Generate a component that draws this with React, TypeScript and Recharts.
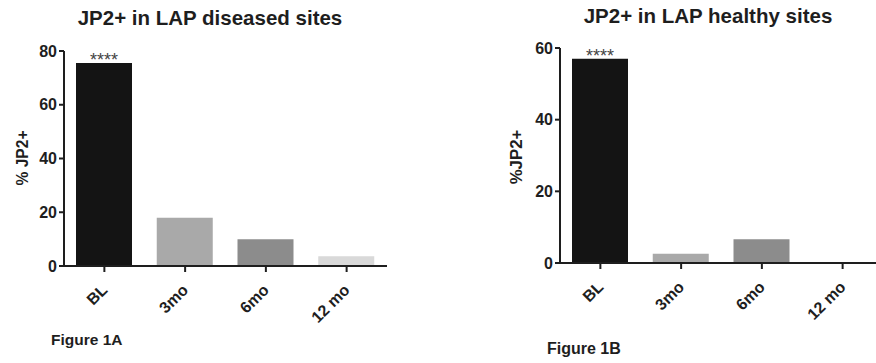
import { BarChart, Bar, XAxis, YAxis, Cell, LabelList } from 'recharts';

const categories = ['BL', '3mo', '6mo', '12 mo'];
const diseasedValues = [75.5, 18, 10, 3.6];
const healthyValues = [57, 2.6, 6.6, 0];
const diseasedTicks = [0, 20, 40, 60, 80];
const healthyTicks = [0, 20, 40, 60];
const significance = ['****', '', '', ''];
const barColors = ['#141414', '#a9a9a9', '#8c8c8c', '#d9d9d9'];

const FONT = '"Liberation Sans", Arial, sans-serif';
const INK = '#1e1e1e';

const XTick = (props: any) => {
  const { x, y, payload } = props;
  const ax = x + 4;
  const ay = y + 17;
  return (
    <text
      x={ax}
      y={ay}
      transform={`rotate(-45, ${ax}, ${ay})`}
      textAnchor="end"
      fontFamily={FONT}
      fontWeight="bold"
      fontSize={16}
      fill={INK}
    >
      {payload.value}
    </text>
  );
};

type PanelProps = {
  values: number[];
  ticks: number[];
  width: number;
  height: number;
  margin: { top: number; right: number; bottom: number; left: number };
};

const Panel = ({ values, ticks, width, height, margin }: PanelProps) => {
  const data = categories.map((c, i) => ({ name: c, value: values[i], sig: significance[i] }));
  return (
    <BarChart width={width} height={height} data={data} margin={margin}>
      <XAxis
        dataKey="name"
        axisLine={{ stroke: INK, strokeWidth: 2 }}
        tickLine={{ stroke: INK, strokeWidth: 2 }}
        tickSize={6}
        tick={<XTick />}
        interval={0}
        height={40}
      />
      <YAxis
        domain={[0, ticks[ticks.length - 1]]}
        ticks={ticks}
        axisLine={{ stroke: INK, strokeWidth: 2 }}
        tickLine={{ stroke: INK, strokeWidth: 2 }}
        tickSize={5}
        width={50}
        tick={{ fill: INK, fontSize: 16, fontWeight: 'bold', fontFamily: FONT }}
      />
      <Bar dataKey="value" barSize={56} isAnimationActive={false}>
        {data.map((d, i) => (
          <Cell key={d.name} fill={barColors[i]} />
        ))}
        <LabelList dataKey="sig" position="top" offset={-3} fill="#444" fontSize={18} fontFamily={FONT} />
      </Bar>
    </BarChart>
  );
};

const abs = (extra: React.CSSProperties): React.CSSProperties => ({
  position: 'absolute',
  fontFamily: FONT,
  fontWeight: 'bold',
  color: INK,
  whiteSpace: 'nowrap',
  ...extra,
});

export default function App() {
  return (
    <div style={{ position: 'absolute', left: 0, top: 0, width: 876, height: 363, background: '#fff', overflow: 'hidden' }}>
      {/* left panel */}
      <div style={{ position: 'absolute', left: 0, top: 0 }}>
        <Panel
          values={diseasedValues}
          ticks={diseasedTicks}
          width={440}
          height={363}
          margin={{ top: 51, right: 53, bottom: 57, left: 14 }}
        />
      </div>
      <div style={abs({ left: 210, top: 18, transform: 'translate(-50%, -50%)', fontSize: 20.5 })}>
        JP2+ in LAP diseased sites
      </div>
      <div style={abs({ left: 23, top: 158, transform: 'translate(-50%, -50%) rotate(-90deg)', fontSize: 15.6 })}>
        % JP2+
      </div>
      <div style={abs({ left: 51, top: 340, transform: 'translateY(-50%)', fontSize: 15.5 })}>Figure 1A</div>

      {/* right panel */}
      <div style={{ position: 'absolute', left: 440, top: 0, width: 436, height: 363, overflow: 'hidden' }}>
        <Panel
          values={healthyValues}
          ticks={healthyTicks}
          width={450}
          height={363}
          margin={{ top: 48, right: 7, bottom: 60, left: 70 }}
        />
      </div>
      <div style={abs({ left: 708, top: 16, transform: 'translate(-50%, -50%)', fontSize: 20.5 })}>
        JP2+ in LAP healthy sites
      </div>
      <div style={abs({ left: 517, top: 157, transform: 'translate(-50%, -50%) rotate(-90deg)', fontSize: 16.8 })}>
        %JP2+
      </div>
      <div style={abs({ left: 547, top: 349, transform: 'translateY(-50%)', fontSize: 16 })}>Figure 1B</div>
    </div>
  );
}
